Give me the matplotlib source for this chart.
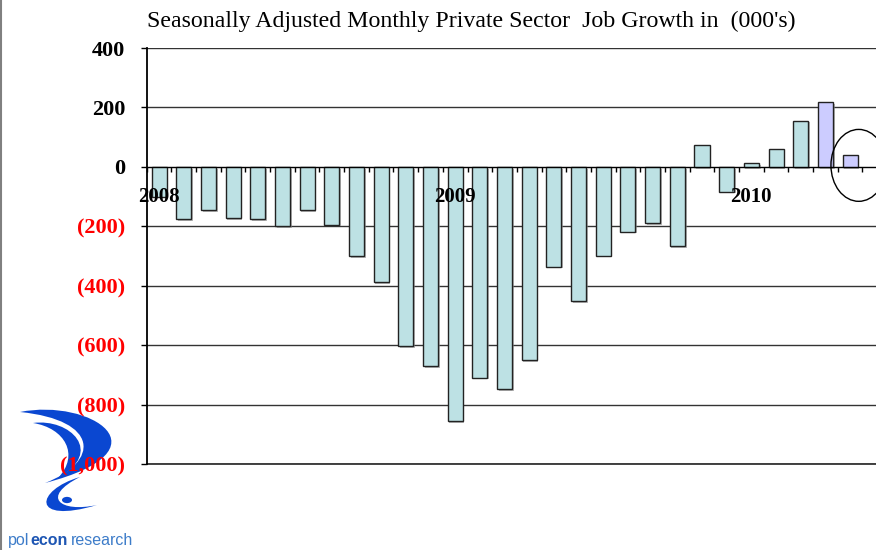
import numpy as np
import matplotlib.pyplot as plt
import matplotlib.patheffects as pe
from matplotlib.patches import Ellipse, PathPatch, Circle
from matplotlib.path import Path
from matplotlib.lines import Line2D

# monthly private-sector job change, Jan 2008 .. May 2010 (thousands)
months = list(range(29))
jobs = [-100, -176, -146, -172, -176, -200, -146, -195, -301, -387,
        -604, -671, -855, -710, -748, -650, -336, -453, -299, -218,
        -189, -266, 73, -84, 12, 59, 156, 217, 39]
highlight = [27, 28]  # latest (preliminary) months
year_labels = ["2008", "2009", "2010"]
year_pos = [0, 12, 24]
y_ticks = [-1000, -800, -600, -400, -200, 0, 200, 400]
y_tick_labels = ["(1,000)", "(800)", "(600)", "(400)", "(200)", "0", "200", "400"]

serif = "Liberation Serif"
W, H = 876, 550
fig = plt.figure(figsize=(W / 100, H / 100), dpi=100)
ax = fig.add_axes([146.7 / W, 86 / H, 740.4 / W, 416 / H])

colors = ["#CCCCFF" if i in highlight else "#BDE1E4" for i in months]
bars = ax.bar(months, jobs, width=0.61, color=colors, edgecolor="#222222",
              linewidth=1, zorder=3)
for b in bars:
    b.set_path_effects([pe.SimplePatchShadow(offset=(1.2, -1.2),
                                             shadow_rgbFace="#888888", alpha=0.6),
                        pe.Normal()])

ax.set_xlim(-0.5, 29.5)
ax.set_ylim(-1000, 400)
ax.set_yticks(y_ticks)
ax.set_yticklabels(y_tick_labels, fontfamily=serif, fontweight="bold", fontsize=16)
for lab, v in zip(ax.get_yticklabels(), y_ticks):
    lab.set_color("red" if v < 0 else "black")
ax.tick_params(axis="y", direction="out", length=4.3, width=1, pad=11)
ax.grid(axis="y", color="#333333", linewidth=1, zorder=1)
ax.axhline(-1000, color="#222222", linewidth=1.2, clip_on=False, zorder=2)

ax.set_xticks(np.arange(-0.5, 29.5, 1))
ax.set_xticklabels([])
ax.tick_params(axis="x", direction="out", length=3.8, width=1)
ax.spines["bottom"].set_position(("data", 0))
ax.spines["bottom"].set_zorder(4)
ax.spines["top"].set_visible(False)
ax.spines["right"].set_visible(False)
ax.spines["left"].set_linewidth(1.3)

for lab, p in zip(year_labels, year_pos):
    ax.text(p, -100, lab, ha="center", va="center", fontfamily=serif,
            fontweight="bold", fontsize=15, zorder=6)

ax.add_patch(Ellipse((28.35, 5), 2.25, 242, fill=False, edgecolor="black",
                     linewidth=1, zorder=5, clip_on=False))

fig.text(147 / W, 1 - 27 / H,
         "Seasonally Adjusted Monthly Private Sector  Job Growth in  (000's)",
         fontfamily=serif, fontsize=17.2, ha="left", va="baseline")

# left page border
fig.add_artist(Line2D([1.2 / W, 1.2 / W], [0, 1], color="#808080", linewidth=1.5))


# logo (pixel coords, y from top)
def px(x, y):
    return (x / W, 1 - y / H)


def shape(pts):
    verts = [px(*p) for p in pts] + [px(*pts[0])]
    codes = [Path.MOVETO] + [Path.CURVE4] * (len(pts) - 1) + [Path.CLOSEPOLY]
    return PathPatch(Path(verts, codes), transform=fig.transFigure,
                     facecolor="#0A47D1", edgecolor="none", zorder=-1)


blue_shapes = [
    [(20, 412), (90, 398), (172, 450), (45, 483), (100, 462), (100, 420), (20, 412)],
    [(33, 423), (70, 418), (105, 452), (58, 478), (80, 455), (65, 428), (33, 423)],
    [(80, 477), (35, 490), (30, 525), (97, 505), (60, 513), (40, 497), (80, 477)],
]
for pts in blue_shapes:
    fig.add_artist(shape(pts))
fig.add_artist(Circle(px(67, 500), 5 / W, transform=fig.transFigure,
                      facecolor="#0A47D1", edgecolor="none", zorder=-1))

logo_font = "Liberation Sans"
fig.text(8 / W, 1 - 545 / H, "pol", color="#3D7CC9", fontfamily=logo_font,
         fontsize=11.5, ha="left", va="baseline")
fig.text(30 / W, 1 - 545 / H, "econ", color="#1E56B3", fontfamily=logo_font,
         fontweight="bold", fontsize=11.5, ha="left", va="baseline")
fig.text(71 / W, 1 - 545 / H, "research", color="#3D7CC9", fontfamily=logo_font,
         fontsize=11.5, ha="left", va="baseline")

fig.savefig("out.png", dpi=100)
